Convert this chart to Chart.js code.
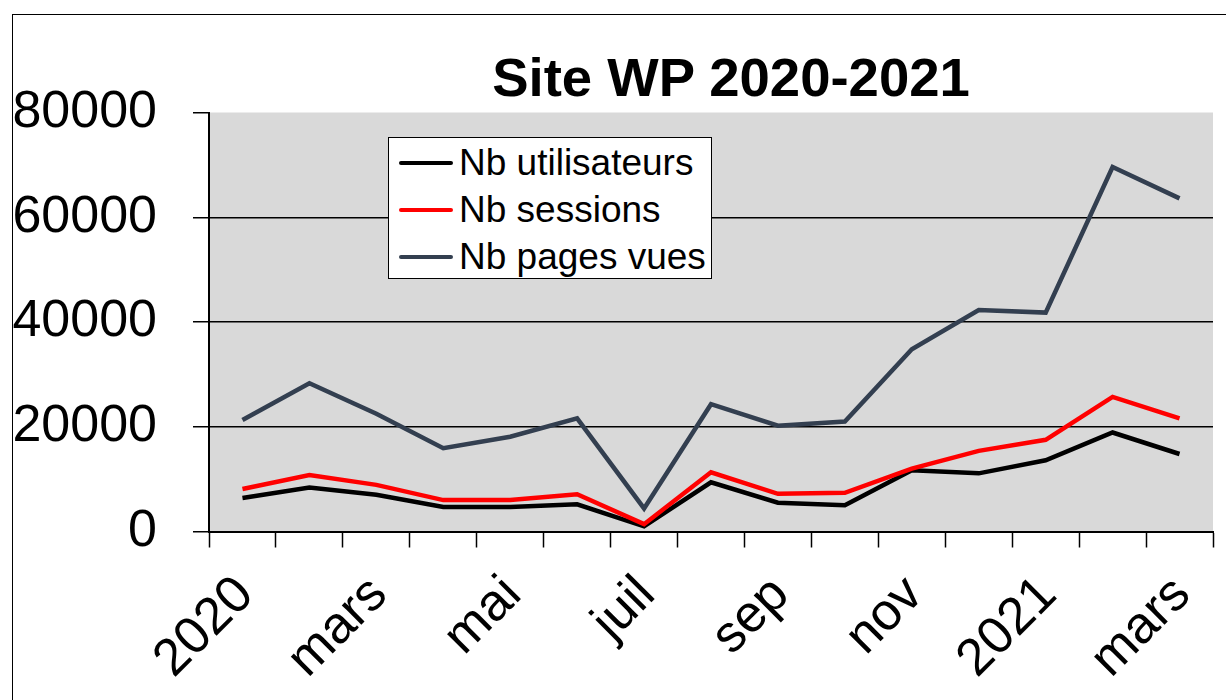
<!DOCTYPE html>
<html>
<head>
<meta charset="utf-8">
<script src="https://cdn.jsdelivr.net/npm/chart.js@4/dist/chart.umd.min.js"></script>
<style>
  html, body { margin: 0; padding: 0; background: #ffffff; }
  #wrap { position: relative; width: 1226px; height: 700px; overflow: hidden; font-family: "Liberation Sans", Arial, sans-serif; }
  #frame { position: absolute; left: 12px; top: 14px; width: 1300px; height: 800px; border-left: 1.5px solid #000; border-top: 1.5px solid #000; pointer-events: none; }
  #title { position: absolute; left: 431px; top: 51px; width: 600px; text-align: center; font-weight: bold; font-size: 54.5px; line-height: 54px; color: #000; white-space: nowrap; }
  #legend { position: absolute; left: 388px; top: 137px; width: 324px; height: 142px; background: #fff; border: 1px solid #000; box-sizing: border-box; padding-top: 1px; }
  .row { height: 47px; display: flex; align-items: center; }
  .swatch { width: 54px; height: 4px; margin-left: 10px; margin-right: 6px; border-radius: 2px; }
  .lbl { font-size: 37px; color: #000; white-space: nowrap; }
</style>
</head>
<body>
<div id="wrap">
  <canvas id="c" width="1226" height="700"></canvas>
  <div id="frame"></div>
  <div id="title"></div>
  <div id="legend"></div>
</div>
<script>
const chartTitle = 'Site WP 2020-2021';
const categories = ['janv 2020','févr','mars','avr','mai','juin','juil','août','sep','oct','nov','déc','janv 2021','févr','mars'];
const tickLabels = ['2020','','mars','','mai','','juil','','sep','','nov','','2021','','mars'];
const seriesNames = ['Nb utilisateurs','Nb sessions','Nb pages vues'];
const utilisateurs = [6400, 8400, 7000, 4700, 4700, 5200, 1000, 9400, 5500, 5000, 11700, 11100, 13600, 18900, 14800];
const sessions = [8100, 10800, 8900, 6000, 6000, 7100, 1400, 11300, 7200, 7400, 12000, 15400, 17500, 25700, 21600];
const pagesVues = [21300, 28300, 22500, 15900, 18100, 21600, 4400, 24300, 20200, 21000, 34800, 42300, 41800, 69600, 63600];
const yTicks = [0, 20000, 40000, 60000, 80000];
const seriesColors = ['#000000', '#ff0000', '#333f50'];

const plotBg = {
  id: 'plotBg',
  beforeDraw(chart) {
    const a = chart.chartArea, ctx = chart.ctx;
    ctx.save();
    ctx.fillStyle = '#d9d9d9';
    ctx.fillRect(a.left, a.top, a.right - a.left, a.bottom - a.top);
    ctx.restore();
  }
};

const values = [utilisateurs, sessions, pagesVues];
const datasets = values.map((v, i) => ({
  label: seriesNames[i],
  data: v,
  borderColor: seriesColors[i],
  backgroundColor: seriesColors[i],
  borderWidth: 4.5,
  pointRadius: 0,
  tension: 0,
  fill: false,
  order: 3 - i
}));

const chart = new Chart(document.getElementById('c'), {
  type: 'line',
  data: { labels: categories, datasets },
  options: {
    responsive: false,
    animation: false,
    layout: { padding: { top: 112.5, right: 13, left: 0, bottom: 0 } },
    plugins: { legend: { display: false }, title: { display: false }, tooltip: { enabled: false } },
    scales: {
      x: {
        type: 'category',
        offset: true,
        afterFit(s) { s.height = 168.5; s.paddingLeft = 0; s.paddingRight = 0; },
        grid: { offset: true, drawOnChartArea: false, drawTicks: true, tickLength: 16, tickColor: '#000', tickWidth: 1.5 },
        border: { color: '#000', width: 2 },
        ticks: {
          autoSkip: false, maxRotation: 45, minRotation: 45, padding: 17, labelOffset: 3,
          color: '#000',
          font: { family: '"Liberation Sans", Arial, sans-serif', size: 52 },
          callback: (v, i) => tickLabels[i]
        }
      },
      y: {
        min: yTicks[0], max: yTicks[yTicks.length - 1],
        afterFit(s) { s.width = 209; },
        afterBuildTicks(s) { s.ticks = yTicks.map(v => ({ value: v })); },
        grid: {
          color: ctx => (ctx.tick && ctx.tick.value === yTicks[yTicks.length - 1]) ? 'rgba(0,0,0,0)' : '#000',
          lineWidth: 1.5, tickLength: 16, tickColor: '#000', tickWidth: 1.5
        },
        border: { color: '#000', width: 2 },
        ticks: {
          padding: 36, color: '#000',
          font: { family: '"Liberation Sans", Arial, sans-serif', size: 52 },
          callback: v => String(v)
        }
      }
    }
  },
  plugins: [plotBg]
});

document.getElementById('title').textContent = chartTitle;
const leg = document.getElementById('legend');
chart.data.datasets.forEach(ds => {
  const row = document.createElement('div');
  row.className = 'row';
  const sw = document.createElement('span');
  sw.className = 'swatch';
  sw.style.background = ds.borderColor;
  const t = document.createElement('span');
  t.className = 'lbl';
  t.textContent = ds.label;
  row.appendChild(sw); row.appendChild(t);
  leg.appendChild(row);
});
</script>
</body>
</html>
